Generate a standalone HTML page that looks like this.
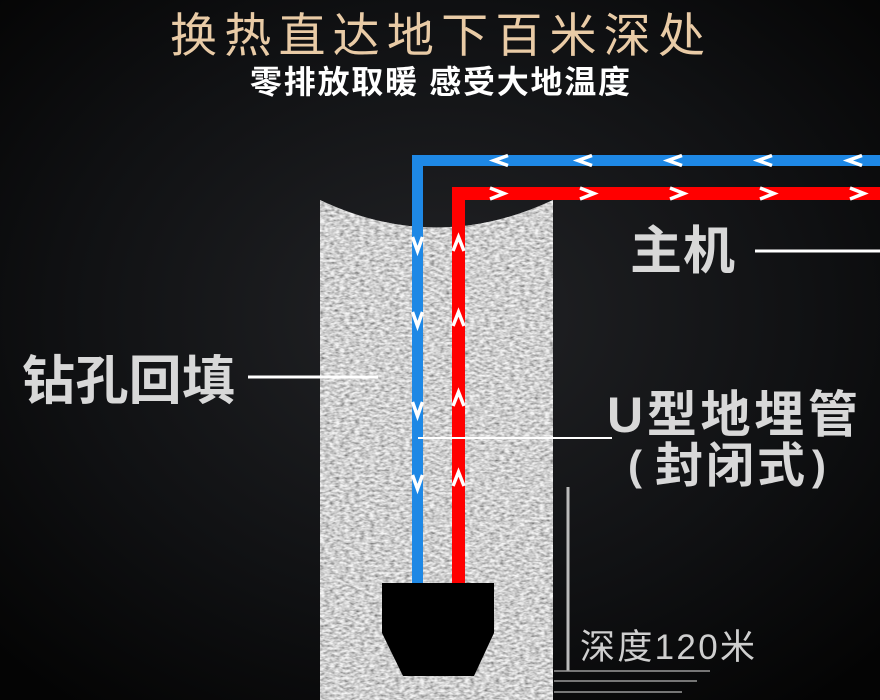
<!DOCTYPE html>
<html><head><meta charset="utf-8"><style>
html,body{margin:0;padding:0;background:#000;}
svg{display:block}
text{font-family:"Liberation Sans","Noto Sans CJK SC",sans-serif;}
</style></head><body>
<svg width="880" height="700" viewBox="0 0 880 700" xmlns="http://www.w3.org/2000/svg">
<defs>
<radialGradient id="bg" cx="0.5" cy="0.45" r="0.7">
<stop offset="0" stop-color="#222326"/>
<stop offset="0.6" stop-color="#101113"/>
<stop offset="1" stop-color="#040404"/>
</radialGradient>
<filter id="tex">
<feTurbulence type="fractalNoise" baseFrequency="0.2 0.4" numOctaves="2" seed="5" result="n"/>
<feColorMatrix in="n" type="matrix" values="1.3 0 0 0 0.02  1.3 0 0 0 0.02  1.3 0 0 0 0.02  0 0 0 0 1" result="g"/>
<feComposite in="g" in2="SourceGraphic" operator="in"/>
</filter>
</defs>
<rect width="880" height="700" fill="url(#bg)"/>
<text x="170" y="52" font-size="47" fill="#e9cba6" textLength="535" lengthAdjust="spacing">换热直达地下百米深处</text>
<text x="250" y="93" font-size="32" font-weight="bold" fill="#fff" textLength="380" lengthAdjust="spacing">零排放取暖 感受大地温度</text>

<path d="M320,200 Q436,255 553,200 L553,700 L320,700 Z" fill="#9a9a9a"/>
<path d="M320,200 Q436,255 553,200 L553,700 L320,700 Z" fill="#000" filter="url(#tex)" opacity="0.9"/>

<path d="M880,160.5 L417.5,160.5 L417.5,583" stroke="#1e88e5" stroke-width="11" fill="none"/>
<path d="M880,193.5 L458.5,193.5 L458.5,583" stroke="#ff0000" stroke-width="13" fill="none"/>
<g stroke="#fff" stroke-width="3.5" fill="none">
<path d="M508,155.5 L494,160.5 L508,165.5"/><path d="M592,155.5 L578,160.5 L592,165.5"/><path d="M682,155.5 L668,160.5 L682,165.5"/><path d="M772,155.5 L758,160.5 L772,165.5"/><path d="M862,155.5 L848,160.5 L862,165.5"/>
<path d="M490,188 L504,193.5 L490,199"/><path d="M580,188 L594,193.5 L580,199"/><path d="M670,188 L684,193.5 L670,199"/><path d="M760,188 L774,193.5 L760,199"/><path d="M850,188 L864,193.5 L850,199"/>
<path d="M412.5,237 L417.5,251 L422.5,237"/><path d="M412.5,312 L417.5,326 L422.5,312"/><path d="M412.5,402 L417.5,416 L422.5,402"/><path d="M412.5,475 L417.5,489 L422.5,475"/>
<path d="M453,251 L458.5,237 L464,251"/><path d="M453,326 L458.5,312 L464,326"/><path d="M453,406 L458.5,392 L464,406"/><path d="M453,486 L458.5,472 L464,486"/>
</g>
<path d="M382,583 L494,583 L494,633 L474,676 L403,676 L382,633 Z" fill="#000"/>

<text x="22" y="399" font-size="53" font-weight="bold" fill="#d8d8d8" textLength="213" lengthAdjust="spacing">钻孔回填</text>
<line x1="248" y1="377" x2="378" y2="377" stroke="#fff" stroke-width="3"/>
<text x="630" y="269" font-size="52" font-weight="bold" fill="#d8d8d8" textLength="105" lengthAdjust="spacing">主机</text>
<line x1="755" y1="251" x2="880" y2="251" stroke="#fff" stroke-width="3"/>
<text x="607" y="432" font-size="50" font-weight="bold" fill="#d8d8d8" textLength="251" lengthAdjust="spacing">U型地埋管</text>
<text x="628" y="480" font-size="42" font-weight="bold" fill="#d8d8d8">(</text>
<text x="655" y="482" font-size="48" font-weight="bold" fill="#d8d8d8" textLength="150" lengthAdjust="spacing">封闭式</text>
<text x="812" y="480" font-size="42" font-weight="bold" fill="#d8d8d8">)</text>
<line x1="418" y1="438" x2="612" y2="438" stroke="#fff" stroke-width="2"/>

<line x1="568" y1="487" x2="568" y2="671" stroke="#bbb" stroke-width="3"/>
<line x1="554" y1="671" x2="710" y2="671" stroke="#999" stroke-width="1.5"/>
<line x1="554" y1="681" x2="697" y2="681" stroke="#999" stroke-width="1.5"/>
<line x1="554" y1="692" x2="682" y2="692" stroke="#999" stroke-width="1.5"/>
<text x="580" y="659" font-size="35" fill="#cfcfcf" textLength="175" lengthAdjust="spacing">深度120米</text>
</svg>
</body></html>
